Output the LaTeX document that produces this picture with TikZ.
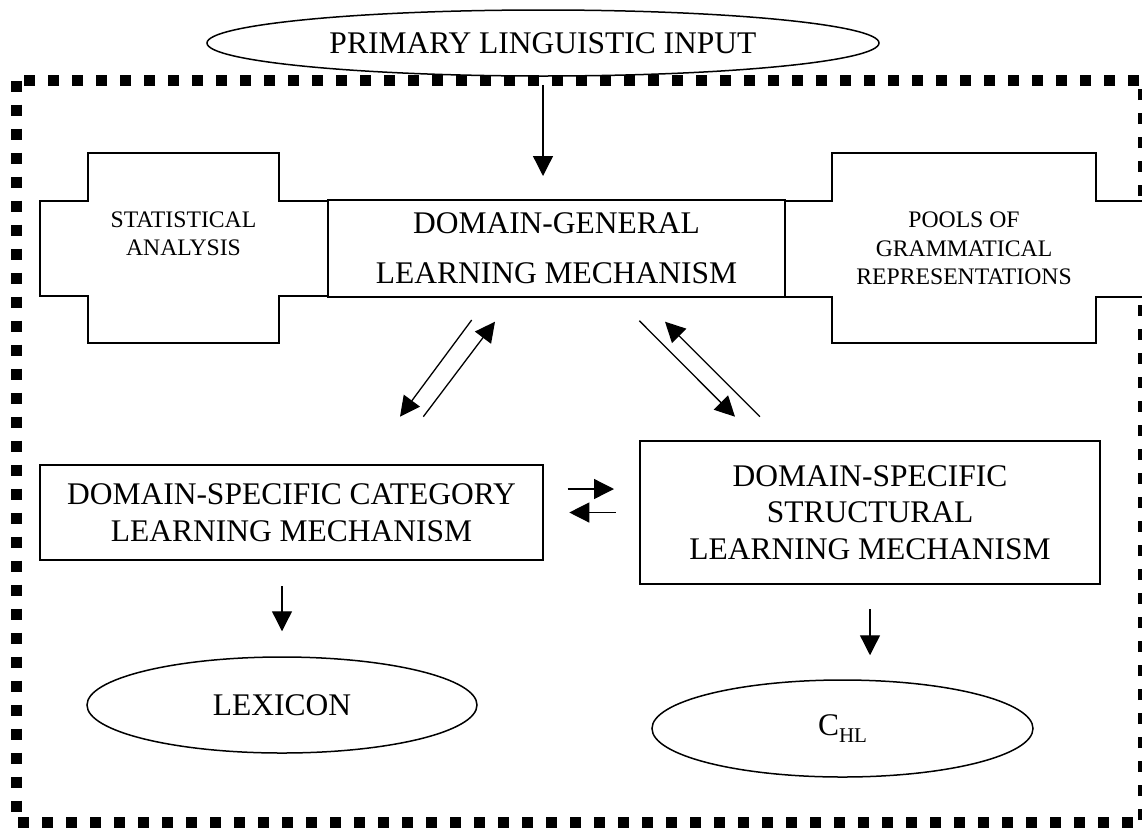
\documentclass[tikz,border=0pt]{standalone}
\usepackage{fontspec}
\setmainfont{Liberation Serif}
\usetikzlibrary{arrows.meta,shapes.geometric}

\newcommand{\bigtext}{\fontsize{31.5}{36.6}\selectfont}
\newcommand{\smalltext}{\fontsize{23.7}{28.5}\selectfont}

\begin{document}
\begin{tikzpicture}
  [x=1pt, y=-1pt,
   box/.style={draw, line width=2pt, fill=white, align=center, inner sep=0pt, font=\bigtext},
   oval/.style={draw, ellipse, line width=1.5pt, inner sep=0pt, font=\bigtext},
   cross/.style={draw, line width=2pt, fill=white},
   crosstext/.style={align=center, inner sep=0pt, font=\smalltext},
   arr/.style={line width=1.3pt, -{Triangle[length=20pt, width=20pt]}},
   border/.style={line width=11pt, dash pattern=on 11pt off 13pt}]
  \useasboundingbox (0,0) rectangle (1142,828);

  \node[oval, minimum width=672pt, minimum height=66pt] (input) at (543,43) {PRIMARY LINGUISTIC INPUT};
  \draw[border] (16,80.5) rectangle (1143.5,822.5);

  \draw[cross] (88,153) -- (279,153) -- (279,201) -- (328,201) -- (328,296) -- (279,296) -- (279,343)
    -- (88,343) -- (88,296) -- (40,296) -- (40,201) -- (88,201) -- cycle;
  \draw[cross] (785,201) -- (832,201) -- (832,153) -- (1096,153) -- (1096,201) -- (1170,201) -- (1170,297)
    -- (1096,297) -- (1096,343) -- (832,343) -- (832,297) -- (785,297) -- cycle;

  \node[box, minimum width=457pt, minimum height=97pt] (general) at (556.5,248.5)
    {DOMAIN-GENERAL\\[13pt]LEARNING MECHANISM};
  \node[crosstext] (stats) at (183.5,234) {STATISTICAL\\ANALYSIS};
  \node[crosstext] (pools) at (964,248.5) {POOLS OF\\GRAMMATICAL\\REPRESENTATIONS};

  \node[box, minimum width=503pt, minimum height=95pt] (category) at (291.5,512.5)
    {DOMAIN-SPECIFIC CATEGORY\\LEARNING MECHANISM};
  \node[box, minimum width=460pt, minimum height=143pt] (structural) at (870,512.5)
    {DOMAIN-SPECIFIC\\STRUCTURAL\\LEARNING MECHANISM};

  \node[oval, minimum width=390pt, minimum height=96pt] (lexicon) at (282,705) {LEXICON};
  \node[oval, minimum width=381pt, minimum height=97pt] (chl) at (842.5,728.5)
    {C\raisebox{-7pt}{\fontsize{21}{21}\selectfont HL}};

  \coordinate (gl1) at (471.7,320);
  \coordinate (cl1) at (400,416.7);
  \coordinate (cl2) at (423.3,416.7);
  \coordinate (gl2) at (495,321.7);
  \coordinate (gr1) at (639.3,320.7);
  \coordinate (sr1) at (735,416.7);
  \coordinate (sr2) at (760,416.7);
  \coordinate (gr2) at (665,321.7);

  \draw[arr] ([yshift=-8pt]input.south) -- ([yshift=23pt]general.north -| input.south);
  \draw[arr] (gl1) -- (cl1);
  \draw[arr] (cl2) -- (gl2);
  \draw[arr] (gr1) -- (sr1);
  \draw[arr] (sr2) -- (gr2);
  \draw[arr] ([xshift=23.7pt,yshift=23.5pt]category.east) -- ([xshift=-25pt,yshift=23.5pt]structural.west);
  \draw[arr] ([xshift=-23.3pt]structural.west) -- ([xshift=25.3pt]category.east);
  \draw[arr] ([yshift=-25pt]category.south -| lexicon.north) -- ([yshift=25pt]lexicon.north);
  \draw[arr] ([yshift=-24pt]structural.south) -- ([yshift=24pt]structural.south |- chl.north);
\end{tikzpicture}
\end{document}
